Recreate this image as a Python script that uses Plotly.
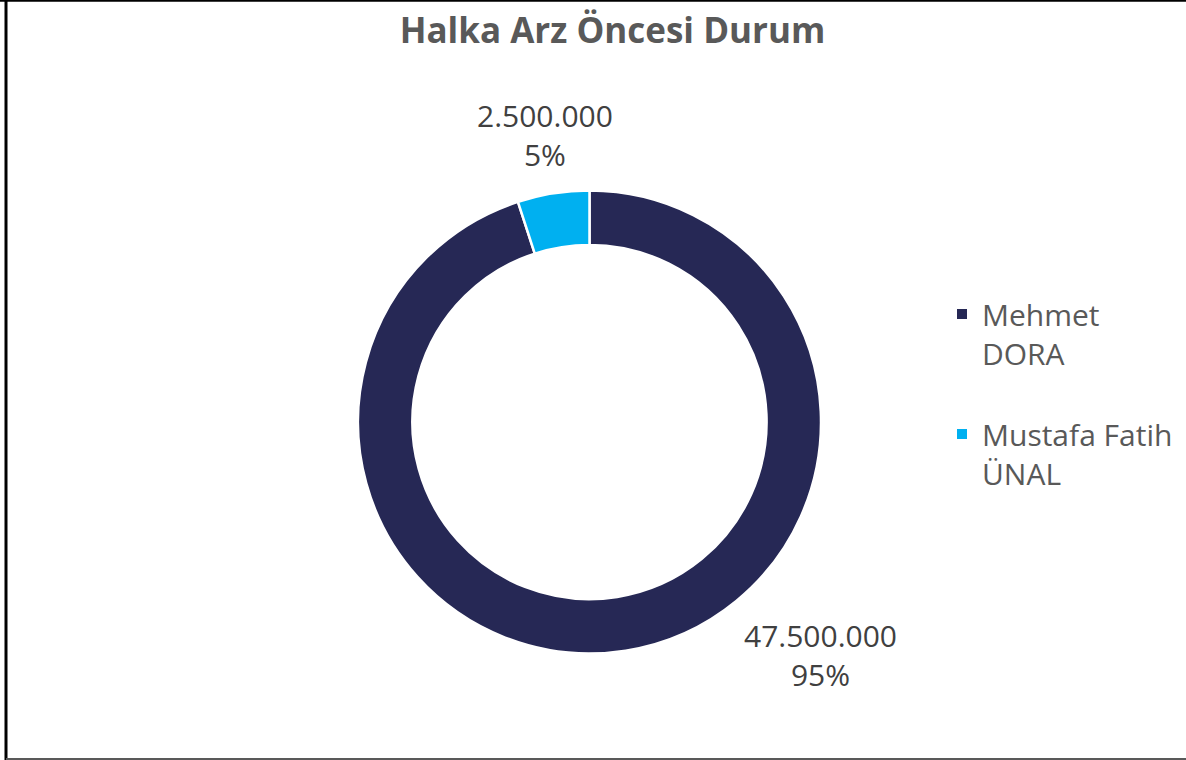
import plotly.graph_objects as go

# ---- data ----
labels = ["Mehmet DORA", "Mustafa Fatih ÜNAL"]
legend_labels = ["Mehmet<br>DORA<br> ", "Mustafa Fatih<br>ÜNAL"]
values = [47500000, 2500000]
colors = ["#262855", "#00B0F0"]
title_text = "Halka Arz Öncesi Durum"

W, H = 1186, 760
total = sum(values)

def fmt_tr(v):
    return f"{v:,}".replace(",", ".")

fig = go.Figure()
fig.add_trace(go.Pie(
    labels=legend_labels,
    values=values,
    hole=0.765,
    sort=False,
    direction="clockwise",
    rotation=0,
    textinfo="none",
    marker=dict(colors=colors, line=dict(color="white", width=2.5)),
    domain=dict(x=[358 / W, 821 / W], y=[1 - 653.5 / H, 1 - 190.5 / H]),
    hoverinfo="label+value+percent",
))

# data labels (Excel-style placement)
label_pos = [(820 / W, 1 - 655 / H), (545 / W, 1 - 135 / H)]
for v, (x, y) in zip(values, label_pos):
    pct = round(v / total * 100)
    fig.add_annotation(
        x=x, y=y, xref="paper", yref="paper",
        text=f"{fmt_tr(v)}<br>{pct}%",
        showarrow=False, align="center",
        font=dict(family="Open Sans", size=30, color="#404040"),
        xanchor="center", yanchor="middle",
    )

fig.update_layout(
    width=W, height=H,
    margin=dict(l=0, r=0, t=0, b=0),
    paper_bgcolor="white",
    plot_bgcolor="white",
    title=dict(
        text=f"<b>{title_text}</b>",
        x=612.5 / W, y=1 - 31 / H, xanchor="center", yanchor="middle",
        font=dict(family="Open Sans", size=35, color="#595959"),
    ),
    legend=dict(
        x=942 / W, y=1 - 288 / H, xanchor="left", yanchor="top",
        font=dict(family="Open Sans", size=30, color="#595959"),
        valign="top", itemsizing="constant",
        bgcolor="rgba(0,0,0,0)",
    ),
    showlegend=True,
    shapes=[
        dict(type="line", xref="paper", yref="paper", x0=0, x1=1, y0=1 - 0.8 / H, y1=1 - 0.8 / H,
             line=dict(color="black", width=2)),
        dict(type="line", xref="paper", yref="paper", x0=6 / W, x1=6 / W, y0=0, y1=1,
             line=dict(color="black", width=3)),
        dict(type="line", xref="paper", yref="paper", x0=6 / W, x1=1, y0=1 - 759 / H, y1=1 - 759 / H,
             line=dict(color="#595959", width=2)),
    ],
)

fig.write_html(
    "out.html",
    config={"displayModeBar": False},
    post_script="document.body.style.margin='0px';document.body.style.overflow='hidden';",
)
